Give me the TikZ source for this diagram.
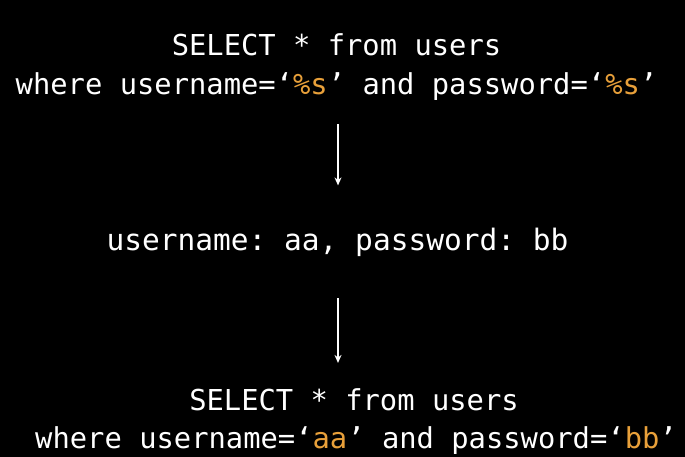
\documentclass[tikz,border=0pt]{standalone}
\usepackage{fontspec}
\setmonofont{DejaVu Sans Mono}
\usetikzlibrary{arrows.meta}
\definecolor{hl}{RGB}{232,160,58}
\tikzset{
  codeline/.style={text=white, inner sep=0pt, anchor=base, font=\ttfamily\fontsize{28.8}{34}\selectfont},
  midline/.style={codeline, font=\ttfamily\fontsize{29.5}{34}\selectfont},
  flow/.style={draw=white, line width=1.4pt, -{Stealth[length=8pt,width=7pt]}}
}
\begin{document}
\begin{tikzpicture}[x=1pt,y=1pt]
\fill[black] (0,0) rectangle (685,-457);
\useasboundingbox (0,0) rectangle (685,-457);
\node[codeline] (t1) at (336.5,-56) {SELECT * from users};
\node[codeline] (t2) at (336.5,-95) {where username=‘\textcolor{hl}{\%s}’ and password=‘\textcolor{hl}{\%s}’};
\node[midline] (m) at (337.5,-250) {username: aa, password: bb};
\node[codeline] (b1) at (354,-410) {SELECT * from users};
\node[codeline] (b2) at (356,-448) {where username=‘\textcolor{hl}{aa}’ and password=‘\textcolor{hl}{bb}’};
\draw[flow, shorten <=23pt, shorten >=42pt] ([xshift=1.5pt]t2.south) -- ([xshift=0.5pt]m.north);
\draw[flow, shorten <=42pt, shorten >=25pt] ([xshift=0.5pt]m.south) -- ([xshift=-16pt]b1.north);
\end{tikzpicture}
\end{document}
